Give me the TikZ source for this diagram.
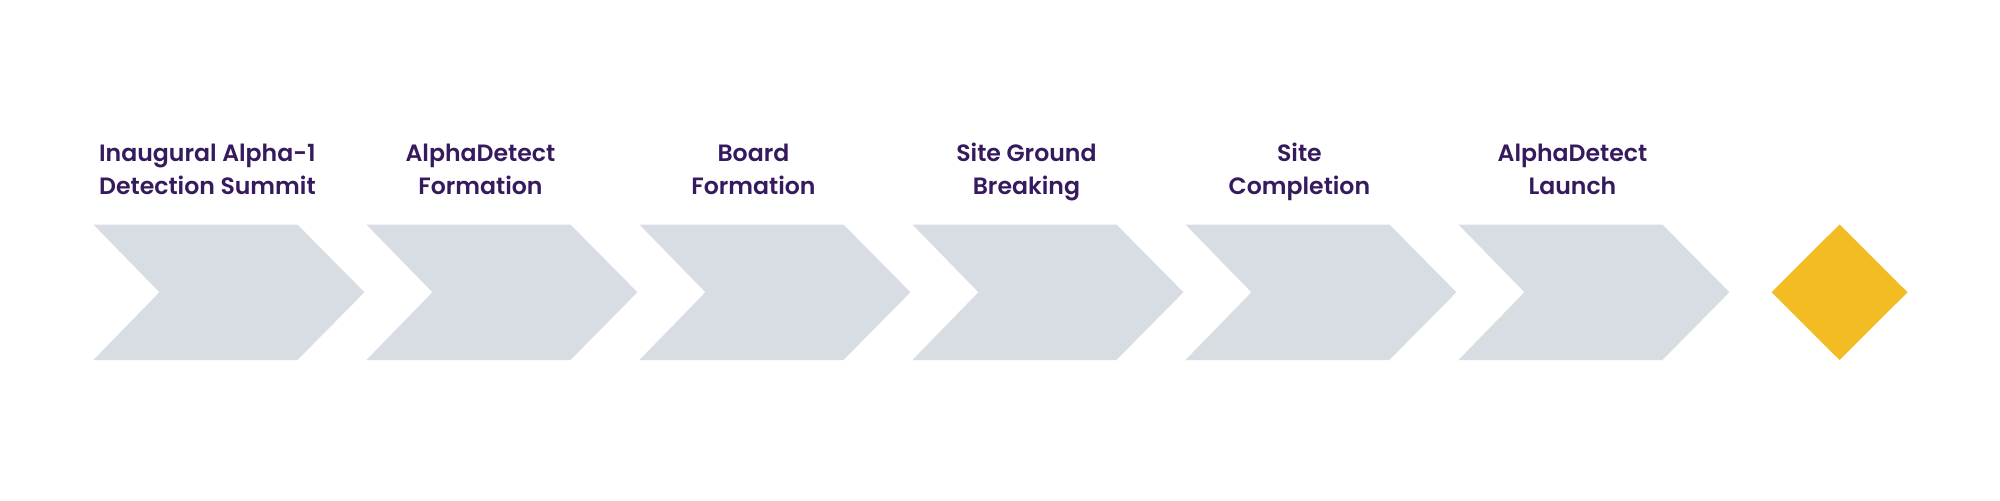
\documentclass[tikz,border=0pt]{standalone}
\usepackage{fontspec}
\setmainfont{Poppins}[BoldFont={Poppins SemiBold}]
\definecolor{chevgray}{HTML}{D8DDE3}
\definecolor{diamgold}{HTML}{F2BC22}
\definecolor{labpurple}{HTML}{361A5E}
\begin{document}
\begin{tikzpicture}[x=0.5pt,y=-0.5pt,
  chev/.style={fill=chevgray,draw=none},
  lab/.style={anchor=base,inner sep=0pt,text=labpurple,font=\fontsize{11.8}{13}\selectfont\bfseries}]
\useasboundingbox (0,0) rectangle (2000,500);
\fill[white] (0,0) rectangle (2000,500);
\foreach \i/\la/\lb in {0/Inaugural Alpha-1/Detection Summit,1/AlphaDetect/Formation,2/Board/Formation,3/Site Ground/Breaking,4/Site/Completion,5/AlphaDetect/Launch}{
  \pgfmathsetmacro{\L}{93.4+273*\i}
  \path[chev] (\L,224.5) coordinate (c\i) -- ++(204,0) -- ++(67,67.75) -- ++(-67,67.75) -- ++(-204,0) -- ++(66,-67.75) -- cycle;
  \node[lab] (ta\i) at (\L+114,161.7) {\la};
  \node[lab] (tb\i) at (\L+114,194) {\lb};
}
\path[fill=diamgold] (1839.5,224.5) coordinate (dtop) -- (1907.5,292.25) -- (1839.5,360) -- (1771.5,292.25) -- cycle;
\end{tikzpicture}
\end{document}
